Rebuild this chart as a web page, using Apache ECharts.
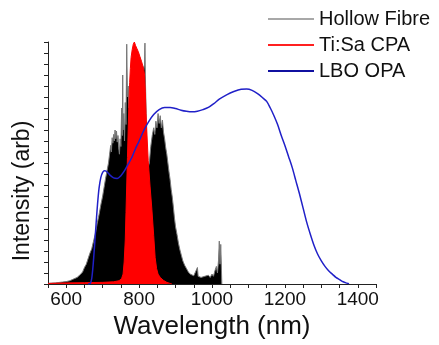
<!DOCTYPE html>
<html>
<head>
<meta charset="utf-8">
<script src="https://cdn.jsdelivr.net/npm/echarts@6/dist/echarts.min.js"></script>
<style>
  html, body { margin: 0; padding: 0; background: #fff; }
  #chart { width: 439px; height: 345px; }
</style>
</head>
<body>
<div id="chart"></div>
<script>
// Hollow Fibre (spiky broadened spectrum)
const fibreNm = [550, 560, 570, 580, 590, 600, 610, 620, 630, 640, 645, 650, 655, 660, 665, 670, 675, 680, 685, 690,
  695, 700, 704, 708, 712, 716, 719, 722, 724, 726, 728, 730, 732, 734, 736, 738, 740, 742, 744, 746,
  748, 750, 752, 754, 755, 756, 758, 760, 762, 764, 766, 768, 770, 772, 776, 780, 790, 800, 806, 810,
  813, 815, 816, 817, 819, 821, 824, 828, 832, 836, 840, 843, 846, 849, 852, 855, 858, 861, 864, 867,
  870, 873, 876, 879, 882, 885, 888, 891, 894, 897, 900, 904, 908, 912, 916, 920, 925, 930, 935, 940,
  945, 950, 955, 960, 962, 966, 970, 975, 980, 985, 990, 995, 1000, 1004, 1008, 1012, 1015, 1018, 1020, 1022,
  1024, 1026, 1027];
const fibreVal = [0.05, 0.08, 0.1, 0.14, 0.18, 0.22, 0.3, 0.45, 0.6, 0.9, 1.1, 1.5, 1.8, 2.3, 2.8, 3.2, 3.9, 4.6, 5.5, 6.3,
  7.2, 8.0, 8.8, 9.6, 10.3, 11.0, 11.8, 12.6, 12.0, 13.3, 12.8, 13.6, 13.0, 14.0, 13.2, 13.9, 12.9, 13.5, 12.4, 11.8,
  13.2, 12.5, 16.0, 13.5, 19.0, 14.0, 15.5, 13.0, 16.5, 14.5, 21.8, 17.0, 18.0, 16.0, 17.0, 16.0, 16.0, 17.0, 19.0, 19.8,
  19.5, 20.0, 21.9, 19.0, 16.0, 11.0, 10.5, 11.0, 12.5, 13.5, 14.2, 13.6, 14.8, 14.2, 15.5, 14.6, 15.3, 14.2, 14.9, 13.8,
  13.2, 12.4, 11.8, 11.0, 10.2, 9.5, 8.6, 7.9, 7.0, 6.0, 5.2, 4.5, 3.7, 3.1, 2.6, 2.1, 1.7, 1.4, 1.1, 0.9,
  0.8, 0.75, 0.65, 1.5, 0.7, 0.55, 0.6, 0.5, 0.7, 0.55, 0.8, 0.6, 0.9, 0.7, 1.2, 1.6, 1.0, 2.2, 3.9, 1.8,
  3.6, 1.2, 0];

// Ti:Sa CPA
const cpaNm = [550, 600, 650, 700, 730, 745, 752, 756, 759, 762, 764, 766, 768, 770, 772, 774, 776, 778, 781, 784,
  787, 790, 794, 798, 802, 807, 812, 815, 817, 819, 821, 825, 830, 835, 840, 844, 848, 852, 858, 866,
  876, 885, 890];
const cpaVal = [0.05, 0.1, 0.12, 0.15, 0.2, 0.3, 0.5, 0.9, 2, 4, 6.5, 9, 11.5, 14, 16.5, 18.3, 19.6, 20.6, 21.3, 21.8,
  22, 21.7, 21.4, 21.1, 20.7, 20.2, 19.6, 19.0, 17.5, 15.5, 14, 11.2, 8.9, 6.8, 4.4, 2.4, 1.4, 0.9, 0.6, 0.35,
  0.15, 0.05, 0];

// LBO OPA
const opaNm = [660, 666, 670, 674, 678, 682, 686, 690, 695, 700, 705, 710, 720, 730, 740, 750, 760, 770, 780, 790,
  800, 812, 825, 840, 855, 870, 885, 900, 915, 930, 945, 960, 975, 990, 1005, 1020, 1040, 1060, 1080, 1095,
  1110, 1125, 1140, 1150, 1160, 1170, 1180, 1190, 1200, 1210, 1220, 1230, 1240, 1250, 1260, 1270, 1280, 1290, 1300, 1310,
  1320, 1330, 1340, 1350, 1360, 1370, 1376];
const opaVal = [0, 0.05, 0.5, 1.8, 3.6, 5.5, 7.3, 8.7, 9.7, 10.15, 10.3, 10.25, 9.9, 9.65, 9.6, 9.85, 10.3, 10.9, 11.5, 12.3,
  13.0, 13.9, 14.7, 15.4, 15.85, 16.05, 16.05, 15.95, 15.8, 15.7, 15.65, 15.7, 15.85, 16.05, 16.4, 16.8, 17.2, 17.5, 17.7, 17.72,
  17.6, 17.3, 16.9, 16.6, 16.0, 15.3, 14.5, 13.5, 12.6, 11.6, 10.6, 9.4, 8.2, 6.9, 5.6, 4.5, 3.5, 2.7, 2.1, 1.6,
  1.2, 0.9, 0.6, 0.4, 0.2, 0.08, 0.02];

const xTickLabels = [600, 800, 1000, 1200, 1400];

function zip(xs, ys) {
  return xs.map((x, i) => [x, ys[i]]);
}

const chart = echarts.init(document.getElementById("chart"));
const font = "Liberation Sans, Arial, sans-serif";

const option = {
  animation: false,
  grid: { left: 48, right: 63, top: 42, bottom: 55 },
  legend: {
    orient: "vertical",
    left: 268,
    top: 9,
    padding: 0,
    itemGap: 6,
    itemWidth: 46,
    itemHeight: 2,
    icon: "rect",
    textStyle: { fontFamily: font, fontSize: 20, lineHeight: 20, color: "#111" },
    data: [
      { name: "Hollow Fibre", itemStyle: { color: "#a8a8a8" } },
      { name: "Ti:Sa CPA", itemStyle: { color: "#ff2020" } },
      { name: "LBO OPA", itemStyle: { color: "#1010a0" } },
    ],
  },
  xAxis: {
    type: "value",
    min: 550,
    max: 1450,
    interval: 50,
    name: "Wavelength (nm)",
    nameLocation: "middle",
    nameGap: 30,
    nameTextStyle: { fontFamily: font, fontSize: 26, color: "#111" },
    axisLine: { lineStyle: { color: "#222", width: 1 } },
    axisTick: { inside: false, length: 4, lineStyle: { color: "#222" } },
    axisLabel: {
      fontFamily: font,
      fontSize: 19,
      color: "#111",
      margin: 6,
      formatter: (v) => (xTickLabels.includes(v) ? String(v) : ""),
    },
    splitLine: { show: false },
  },
  yAxis: {
    type: "value",
    min: 0,
    max: 22,
    interval: 1,
    name: "Intensity (arb)",
    nameLocation: "middle",
    nameGap: 14,
    nameTextStyle: { fontFamily: font, fontSize: 23, color: "#111", padding: [0, 56, 0, 0] },
    axisLine: { show: true, lineStyle: { color: "#222", width: 1 } },
    axisTick: { show: true, inside: false, length: 4, lineStyle: { color: "#222" } },
    axisLabel: { show: false },
    splitLine: { show: false },
  },
  series: [
    {
      name: "Hollow Fibre",
      type: "line",
      z: 2,
      showSymbol: false,
      data: zip(fibreNm, fibreVal),
      itemStyle: { color: "#a8a8a8" },
      lineStyle: { color: "#777", width: 1 },
      areaStyle: { color: "#000", opacity: 1 },
    },
    {
      name: "Ti:Sa CPA",
      type: "line",
      z: 3,
      showSymbol: false,
      data: zip(cpaNm, cpaVal),
      itemStyle: { color: "#ff2020" },
      lineStyle: { color: "#ff0000", width: 1 },
      areaStyle: { color: "#ff0000", opacity: 1 },
    },
    {
      name: "LBO OPA",
      type: "line",
      z: 4,
      showSymbol: false,
      smooth: 0.3,
      data: zip(opaNm, opaVal),
      itemStyle: { color: "#1010a0" },
      lineStyle: { color: "#2020c8", width: 1.5 },
    },
  ],
};

chart.setOption(option);
</script>
</body>
</html>
